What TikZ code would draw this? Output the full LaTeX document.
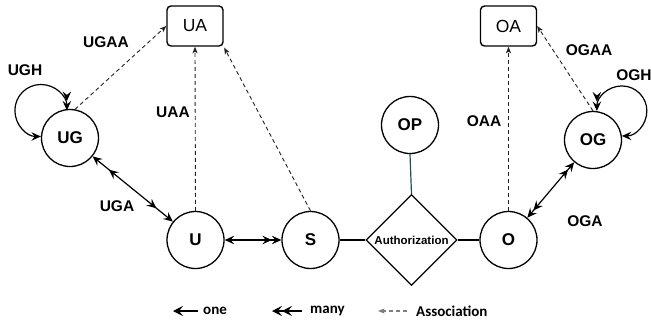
\documentclass[tikz,border=0pt]{standalone}
\usepackage{fontspec}
\setmainfont{Liberation Sans}
\newfontfamily\legfont{Carlito}
\usetikzlibrary{arrows.meta,shapes.geometric,decorations.markings}
\definecolor{tealline}{HTML}{1F4F5C}
\definecolor{assoc}{HTML}{222222}
\definecolor{leggray}{HTML}{7F7F7F}
\tikzset{
  hd/.tip={Stealth[length=9.5pt,width=8.5pt,inset=3.5pt]},
  lg/.tip={Stealth[length=10pt,width=10pt,inset=4pt]},
  sm/.tip={Stealth[length=6.5pt,width=5pt,inset=1.5pt]},
}
\begin{document}
\begin{tikzpicture}[x=1pt,y=-1pt,
  ent/.style={circle,draw,line width=1.3pt,minimum size=57pt,inner sep=0pt,font=\fontsize{17}{17}\selectfont\bfseries},
  attrbox/.style={draw,rounded corners=4pt,line width=1.4pt,minimum width=56pt,minimum height=40pt,inner sep=0pt,font=\fontsize{17.5}{17.5}\selectfont},
  lbl/.style={font=\fontsize{15.5}{15.5}\selectfont\bfseries,inner sep=0pt},
  leg/.style={font=\legfont\fontsize{15}{15}\selectfont\bfseries,inner sep=0pt,anchor=west},
  rel/.style={line width=1.2pt},
  asc/.style={line width=0.9pt,dash pattern=on 4pt off 3pt,color=assoc,-{sm[]}},
]
\useasboundingbox (0,0) rectangle (651,327);

% attribute boxes
\node[attrbox] (UA) at (195,26) {UA};
\node[attrbox] (OA) at (508.5,26) {OA};

% entities
\node[ent] (UG) at (70,138) {UG};
\node[ent] (OG) at (593,140) {OG};
\node[ent] (U) at (195.5,240) {U};
\node[ent] (S) at (310.5,240) {S};
\node[ent] (O) at (508.5,240) {O};
\node[ent] (OP) at (410,125) {OP};
\node[diamond,draw,line width=1.3pt,aspect=1,minimum size=91pt,inner sep=0pt,
      font=\fontsize{11.5}{11.5}\selectfont\bfseries] (AU) at (411.5,240) {Authorization};

% associations
\draw[asc] (UG.80) -- (UA.west);
\draw[asc] (U.north) -- (UA.south);
\draw[asc,shorten >=1pt] (S.north) -- (UA.south east);
\draw[asc] (O.north) -- (OA.south);
\draw[asc] (OG.north) -- (OA.east);

% plain links
\draw[line width=1.2pt,tealline] (OP.south) -- (AU.north);
\draw[line width=1.3pt] (S.east) -- (AU.west);
\draw[line width=1.3pt] (AU.east) -- (O.west);

% relations
\draw[rel,{hd[]}-{hd[]},postaction={decorate},
  decoration={markings,
    mark=at position 21pt with {\arrowreversed{hd[]}},
    mark=at position -21pt with {\arrow{hd[]}}}] (UG) -- (U);
\draw[rel,{hd[]}-{hd[] hd[]}] (U) -- (S);
\draw[rel,{hd[] hd[]}-{hd[] hd[]}] (O) -- (OG);

% self loops
\draw[rel,{hd[]}-{hd[] hd[]}] (UG.177) arc[start angle=90,end angle=360,radius=26];
\draw[rel,{hd[]}-{hd[] hd[]}] (OG.8) arc[start angle=90,end angle=-180,radius=25];

% labels
\node[lbl] (lUGH) at (25,70) {UGH};
\node[lbl] (lUGAA) at (106,42) {UGAA};
\node[lbl] (lUAA) at (173,112) {UAA};
\node[lbl] (lUGA) at (117,206) {UGA};
\node[lbl] (lOAA) at (484,121) {OAA};
\node[lbl] (lOGAA) at (589,50) {OGAA};
\node[lbl] (lOGH) at (634,75) {OGH};
\node[lbl] (lOGA) at (585,221) {OGA};

% legend
\coordinate (l1s) at (198,311);
\coordinate (l1e) at (173,311);
\coordinate (l2s) at (302,311);
\coordinate (l2e) at (272,311);
\coordinate (l3s) at (407,311);
\coordinate (l3e) at (378,311);
\draw[line width=1.6pt,-{lg[]}] (l1s) -- (l1e);
\draw[line width=1.6pt,-{lg[] lg[]}] (l2s) -- (l2e);
\draw[line width=1.1pt,leggray,dash pattern=on 4pt off 3pt,-{sm[]}] (l3s) -- (l3e);
\node[leg] (tone) at (203,311) {one};
\node[leg] (tmany) at (310,311) {many};
\node[leg] (tassoc) at (416,311) {Association};
\end{tikzpicture}
\end{document}
